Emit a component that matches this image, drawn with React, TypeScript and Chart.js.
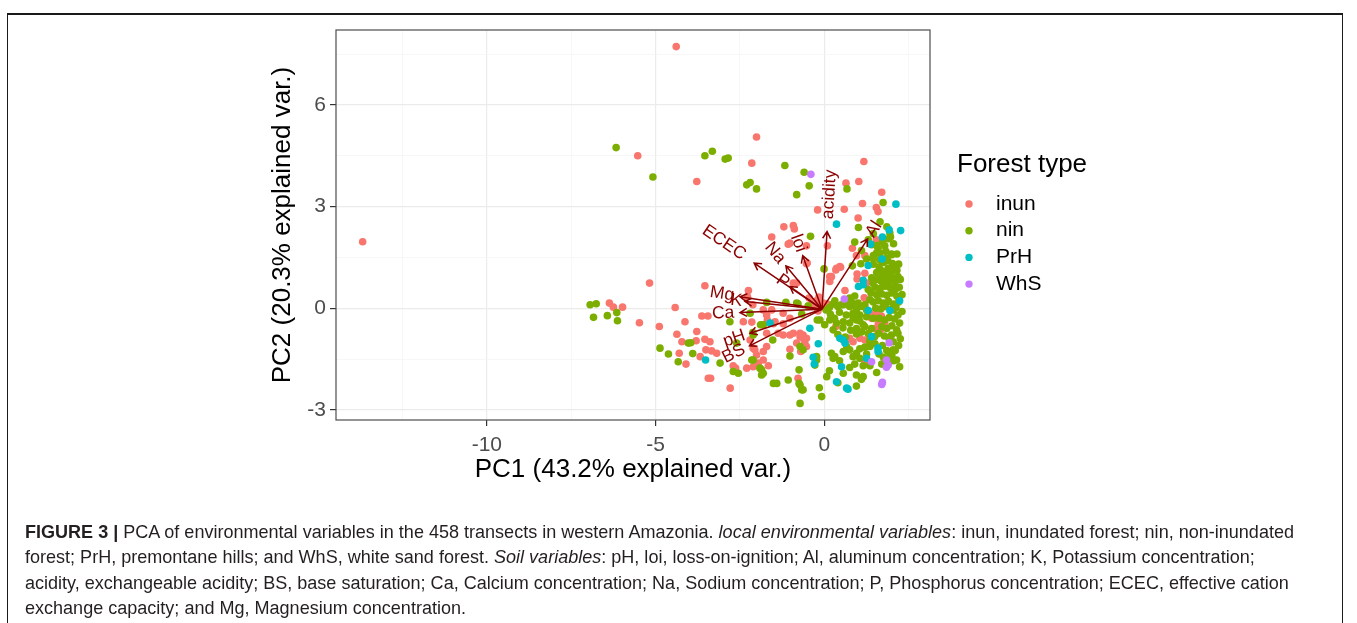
import React, { useEffect, useRef } from "react";
import { Chart, registerables } from "chart.js";

Chart.register(...registerables);

// ---------- data ----------
const forestTypes = ["inun", "nin", "PrH", "WhS"];
const forestColors = ["#F8766D", "#7CAE00", "#00BFC4", "#C77CFF"];

const inunPoints: number[][] = [
  [-13.68, 1.96], [-4.39, 7.72], [-5.53, 4.5], [-3.78, 3.74], [-2.01, 5.05], [-2.15, 4.28], [1.17, 4.33],
  [0.64, 3.69], [1.02, 3.74], [1.7, 3.42], [1.13, 3.09], [1.54, 2.97], [1.59, 2.85], [0.59, 2.92],
  [-0.2, 2.9], [1.0, 2.66], [-1.2, 2.4], [-0.92, 2.44], [-0.89, 2.34], [-1.56, 2.1], [1.54, 2.02],
  [-1.02, 1.92], [-0.53, 1.84], [0.09, 1.84], [0.83, 1.77], [1.2, 1.55], [0.95, 1.55], [0.46, 1.23],
  [0.34, 1.13], [0.21, 0.93], [-0.51, 1.33], [0.97, 1.01], [0.16, 0.79], [-0.92, 0.74], [-0.82, 0.74],
  [1.25, 0.74], [1.2, 1.03], [0.97, 0.86], [0.61, 0.52], [1.18, 0.31], [0.66, 0.13], [1.25, 0.25],
  [1.35, -0.15], [1.54, -0.17], [1.69, -0.23], [1.79, -0.44], [1.66, -0.64], [0.21, -0.27], [0.34, -0.54],
  [0.66, -0.94], [0.75, -0.89], [0.85, -0.99], [1.05, -0.89], [1.2, -0.94], [1.2, -1.62], [-0.78, -2.07],
  [-0.67, -1.18], [-0.7, -1.28],
  [-0.45, 0.3], [-0.23, 0.22], [-0.04, 0.15], [0.07, 0.13], [-0.37, 0.19], [-0.16, 0.33], [-0.31, 0.07],
  [-0.1, 0.04], [-0.19, -0.08],
  [-5.18, 0.74], [-3.54, 0.66], [-2.25, 0.52], [-2.28, 0.34], [-2.12, 0.1], [-4.42, 0.02], [-6.37, 0.15],
  [-6.25, 0.03], [-5.98, 0.03], [-5.48, -0.43], [-4.89, -0.54], [-4.13, -0.4], [-3.63, -0.23], [-3.45, -0.23],
  [-2.4, -0.4], [-2.15, -0.41],
  [-1.81, -0.05], [-1.56, -0.05], [-1.71, -0.2], [-1.69, -0.35], [-1.51, -0.46], [-1.22, -0.46], [-1.02, -0.3],
  [-1.46, -0.4], [-1.22, -0.15],
  [-0.92, -0.74], [-0.72, -0.74], [-0.63, -0.79], [-0.53, -0.89], [-0.58, -1.03],
  [-4.37, -0.77], [-4.22, -0.99], [-3.78, -0.69], [-3.8, -0.96], [-3.54, -0.92], [-3.39, -0.99],
  [-4.3, -1.33], [-4.1, -1.65], [-3.68, -1.43], [-3.51, -1.23], [-3.34, -1.26], [-3.19, -1.33],
  [-2.7, -1.7], [-2.63, -1.77], [-3.44, -2.07], [-3.37, -2.07], [-2.79, -2.36],
  [-2.2, -0.94], [-2.06, -1.23], [-2.01, -1.38], [-1.81, -1.28], [-1.71, -1.13],
  [-2.11, -1.73], [-1.96, -1.62], [-1.81, -1.53], [-1.66, -1.7], [-2.3, -1.77],
  [-1.02, -1.21], [-0.82, -1.03], [-0.63, -0.89], [-0.53, -1.13],
  [-1.37, -0.74], [-1.22, -0.79], [-1.02, -0.79], [-0.72, -0.84], [-1.71, -0.74],
  [-2.11, -1.18], [-1.07, 1.89], [-0.53, 1.31], [0.36, 1.18], [0.48, 1.21], [0.16, 0.93],
  [1.4, -0.3], [1.6, -0.45], [1.48, -0.6],
];

const ninPoints: number[][] = [
  [-6.17, 4.74], [-5.08, 3.87], [-3.54, 4.5], [-3.32, 4.63], [-2.94, 4.4], [-2.85, 4.43], [-1.17, 4.21],
  [-0.6, 4.01], [-2.3, 3.64], [-2.2, 3.71], [-2.01, 3.52], [-0.82, 3.35], [-0.45, 3.61], [0.67, 3.52],
  [1.74, 3.12], [1.01, 2.38], [-0.41, 2.12], [1.94, 2.22], [1.96, 2.1], [1.3, 2.02], [1.4, 1.87],
  [1.59, 1.77], [1.79, 1.84], [1.54, 1.62], [1.44, 1.48], [1.64, 1.43], [1.84, 1.48], [1.99, 1.6],
  [1.08, 1.31], [0.83, 1.25], [1.89, 1.18], [2.04, 1.18], [1.79, 1.03], [1.99, 0.93], [2.18, 0.93],
  [-0.01, 1.16],
  [-6.94, 0.1], [-6.76, 0.13], [-6.84, -0.27], [-6.43, -0.22], [-6.15, -0.13], [-6.13, -0.37],
  [-2.8, -0.4], [-1.89, -0.49], [-1.71, 0.17], [-1.14, 0.17], [-0.78, 0.13], [-0.67, -0.17], [-0.21, -0.35],
  [0.01, -0.49], [-2.2, -0.15], [-2.12, -0.72],
  [-4.03, -1.03], [-3.96, -1.02], [-4.87, -1.18], [-4.62, -1.35], [-4.33, -1.58], [-3.9, -1.34], [-3.09, -1.62],
  [-2.7, -1.87], [-2.55, -1.92], [-2.6, -1.03],
  [-2.11, -1.53], [-1.86, -1.82], [-1.86, -1.97], [-1.81, -1.92], [-1.51, -2.22], [-1.07, -2.12],
  [-0.75, -1.82], [-0.75, -2.22], [-0.67, -2.41], [-0.72, -2.81], [-0.23, -1.53], [0.07, -2.02], [-0.08, -2.61],
  [-1.53, -0.94], [-0.72, -1.13], [-0.63, -1.23], [-1.41, -2.22], [-0.72, -2.27], [-0.63, -2.41], [-1.02, -1.41],
  [-0.23, -1.43], [-0.28, -1.68], [0.21, -1.33], [0.26, -1.48], [0.31, -1.43], [0.56, -1.92], [0.95, -1.97],
  [1.15, -2.02],
  [-0.13, -0.35], [0.26, -0.64], [0.16, -0.35], [0.36, -0.44], [0.56, -0.4], [0.75, -0.44], [0.95, -0.35],
  [1.15, -0.49],
  [0.31, 0.22], [0.56, 0.1], [0.75, 0.05], [0.95, -0.05], [0.85, -0.15], [1.05, -0.2], [1.25, -0.25],
  [0.75, 0.3], [0.9, 0.36], [1.44, 0.74], [1.69, 0.79], [1.89, 0.79], [2.09, 0.74],
  [2.04, -0.05], [2.18, -0.2], [2.23, -0.44], [2.14, -0.64], [1.99, -0.79], [2.04, -0.99], [2.18, -0.74],
  [0.95, -0.76], [1.35, -0.94], [1.49, -0.84], [1.35, -1.13], [2.04, -1.23], [1.94, -1.38], [2.14, -1.53],
  [2.23, -1.73], [0.95, -1.33], [1.05, -1.48], [0.85, -1.43], [0.75, -1.23], [0.66, -1.13], [0.56, -1.28],
  [-1.91, -1.77], [-0.82, 0.15], [-0.48, 0.07], [-1.81, -0.49], [-2.11, -0.79], [-2.15, -1.53],
  [1.45, 1.3], [1.62, 1.22], [1.75, 1.35], [1.88, 1.4], [2.02, 1.32], [1.55, 1.05], [1.7, 1.1],
  [1.85, 1.05], [2.0, 1.08], [2.15, 1.12], [1.4, 0.9], [1.58, 0.85], [1.72, 0.92], [1.9, 0.88],
  [2.05, 0.82], [1.5, 0.62], [1.65, 0.58], [1.8, 0.65], [1.95, 0.6], [2.1, 0.55], [2.22, 0.62],
  [1.38, 0.45], [1.55, 0.4], [1.7, 0.42], [1.85, 0.38], [2.0, 0.45], [2.15, 0.35], [1.45, 0.18],
  [1.6, 0.22], [1.75, 0.15], [1.9, 0.2], [2.05, 0.12], [2.2, 0.18], [1.52, 0.0], [1.68, -0.02],
  [1.82, 0.05], [1.98, -0.04], [2.12, 0.02], [1.62, -0.3], [1.78, -0.35], [1.92, -0.28], [2.08, -0.32],
  [1.7, -0.55], [1.85, -0.6], [2.0, -0.52], [1.6, -0.75], [1.78, -0.82], [1.92, -0.9], [1.5, -1.05],
  [1.72, -1.1], [1.85, -1.25], [2.0, -1.4], [1.75, -1.45], [1.62, -1.35], [1.9, -1.6], [2.1, -1.25],
  [1.45, 1.55], [1.65, 1.62], [1.82, 1.68], [2.0, 1.58], [1.55, 1.85], [1.72, 1.95], [1.9, 2.05],
  [2.05, 1.9], [1.35, 0.25], [1.3, 0.55], [1.25, -0.05], [1.2, 0.1], [1.1, 0.05], [1.0, 0.15],
  [0.9, 0.08], [0.8, 0.18], [0.7, 0.12], [0.6, 0.2], [0.5, 0.1], [0.4, 0.05], [0.25, 0.12],
  [0.15, 0.02], [0.05, -0.05], [0.45, -0.12], [0.65, -0.2], [0.85, -0.28], [1.05, -0.38], [1.2, -0.55],
  [1.1, -0.7], [0.95, -0.6], [0.78, -0.65], [0.55, -0.58], [0.4, -0.78], [0.62, -0.85], [0.3, -0.3],
  [0.18, -0.18], [1.3, -0.75], [1.4, -0.6], [1.45, -0.3], [1.35, -1.0], [1.2, -1.15], [1.05, -1.2],
  [1.25, -1.35], [1.15, -1.7], [0.9, -1.65], [0.75, -1.75], [0.45, -1.55], [0.95, -2.3], [0.4, -2.2],
  [0.15, -1.85], [-0.15, -2.35], [1.1, -2.1], [1.35, -1.7], [1.55, -1.9], [1.7, -1.65], [2.05, -1.55],
  [2.2, -1.1], [2.25, -0.9], [2.3, -0.1], [2.3, 0.4], [2.25, 0.85], [2.2, 1.3], [2.15, 1.6],
  [1.65, 2.55], [1.85, 2.4], [1.45, 2.2], [0.9, 1.95], [1.1, 1.7], [1.25, 1.45],
];

const prhPoints: number[][] = [
  [2.12, 3.07], [0.36, 2.48], [1.92, 2.31], [2.26, 2.29], [1.72, 2.1], [1.37, 1.89], [1.71, 1.45],
  [1.3, 1.26], [1.15, 0.82], [1.01, 0.64], [1.15, 0.69], [1.3, -0.07], [0.46, -0.89], [0.56, -0.94],
  [0.61, -1.03], [1.59, -1.18], [1.59, -1.28], [1.25, -1.48], [0.51, -1.73], [0.36, -2.17], [0.66, -2.36],
  [0.7, -2.39], [-0.33, -1.45], [-0.3, -1.65], [-0.43, -0.59], [-0.18, -1.05], [-1.61, -0.44], [-3.52, -1.53],
  [2.23, 0.22], [1.94, -0.07], [1.4, -0.84],
];

const whsPoints: number[][] = [
  [-0.4, 3.95], [0.59, 0.27], [1.92, -1.02], [1.84, -1.53], [1.89, -1.68], [1.84, -1.74], [1.4, -1.58],
  [1.72, -2.19], [1.7, -2.25],
];

const seriesPoints = [inunPoints, ninPoints, prhPoints, whsPoints];
const seriesOrder = [4, 3, 2, 1];

// soil-variable loadings (arrows)
const varNames = ["acidity", "Al", "loi", "Na", "ECEC", "P", "Mg", "K", "Ca", "pH", "BS"];
const loadX = [0.08, 1.28, -0.64, -1.14, -2.08, -1.02, -2.5, -2.35, -2.5, -2.2, -2.22];
const loadY = [2.26, 2.04, 1.55, 1.25, 1.33, 0.64, 0.34, 0.2, -0.13, -0.74, -1.11];
const arrowOrigin = [-0.07, -0.03];

// axes
const xRange = [-14.47, 3.13];
const yRange = [-3.3, 8.21];
const xMajor = [-10, -5, 0];
const xMinor = [-12.5, -7.5, -2.5, 2.5];
const yMajor = [-3, 0, 3, 6];
const yMinor = [-1.5, 1.5, 4.5, 7.5];

const xTitle = "PC1 (43.2% explained var.)";
const yTitle = "PC2 (20.3% explained var.)";
const legendTitle = "Forest type";

// ---------- layout / style ----------
const W = 1357;
const H = 623;
const PLOT = { left: 336, right: 930, top: 30, bottom: 420 };
const FONT = '"Liberation Sans", Arial, Helvetica, sans-serif';
const ARROW_COLOR = "#8B0000";

const overlayPlugin = {
  id: "overlay",
  afterDatasetsDraw(chart: any) {
    const { ctx, chartArea: a, scales } = chart;
    const xs = scales.x;
    const ys = scales.y;
    ctx.save();
    const ox = xs.getPixelForValue(arrowOrigin[0]);
    const oy = ys.getPixelForValue(arrowOrigin[1]);
    ctx.strokeStyle = ARROW_COLOR;
    ctx.lineWidth = 1.5;
    ctx.lineJoin = "miter";
    varNames.forEach((_, i) => {
      const tx = xs.getPixelForValue(loadX[i]);
      const ty = ys.getPixelForValue(loadY[i]);
      const ang = Math.atan2(ty - oy, tx - ox);
      const L = 8;
      const w = Math.PI / 6;
      ctx.beginPath();
      ctx.moveTo(ox, oy);
      ctx.lineTo(tx, ty);
      ctx.moveTo(tx - L * Math.cos(ang - w), ty - L * Math.sin(ang - w));
      ctx.lineTo(tx, ty);
      ctx.lineTo(tx - L * Math.cos(ang + w), ty - L * Math.sin(ang + w));
      ctx.stroke();
    });
    ctx.fillStyle = ARROW_COLOR;
    ctx.font = `17.5px ${FONT}`;
    ctx.textBaseline = "middle";
    ctx.textAlign = "left";
    varNames.forEach((name, i) => {
      const tx = xs.getPixelForValue(loadX[i]);
      const ty = ys.getPixelForValue(loadY[i]);
      const dx = tx - ox;
      const dy = ty - oy;
      const rot = Math.atan(dy / dx);
      const hj = (1 - 1.5 * Math.sign(loadX[i])) / 2;
      const tw = ctx.measureText(name).width;
      ctx.save();
      ctx.translate(tx, ty);
      ctx.rotate(rot);
      ctx.fillText(name, -hj * tw, 0);
      ctx.restore();
    });
    // panel border
    ctx.strokeStyle = "#4D4D4D";
    ctx.lineWidth = 1.2;
    ctx.strokeRect(a.left, a.top, a.right - a.left, a.bottom - a.top);
    ctx.restore();
  },
  afterDraw(chart: any) {
    const { ctx, chartArea: a } = chart;
    ctx.save();
    ctx.fillStyle = "#000";
    ctx.font = `26px ${FONT}`;
    ctx.textBaseline = "middle";
    ctx.textAlign = "center";
    ctx.fillText(xTitle, (a.left + a.right) / 2, 470);
    ctx.save();
    ctx.translate(283, (a.top + a.bottom) / 2);
    ctx.rotate(-Math.PI / 2);
    ctx.fillText(yTitle, 0, 0);
    ctx.restore();
    // legend
    ctx.textAlign = "left";
    ctx.fillText(legendTitle, 957, 165);
    ctx.font = `21px ${FONT}`;
    forestTypes.forEach((t, i) => {
      const cy = 204 + i * 26.7;
      ctx.beginPath();
      ctx.fillStyle = forestColors[i];
      ctx.arc(969, cy, 3.7, 0, Math.PI * 2);
      ctx.fill();
      ctx.fillStyle = "#000";
      ctx.fillText(t, 996, cy);
    });
    ctx.restore();
  },
};

function isIn(list: number[], v: any) {
  return list.some((m) => Math.abs(m - v) < 1e-9);
}

export default function App() {
  const canvasRef = useRef<HTMLCanvasElement | null>(null);
  const captionRef = useRef<HTMLDivElement | null>(null);

  useEffect(() => {
    if (!canvasRef.current) return;
    const chart = new Chart(canvasRef.current, {
      type: "scatter",
      data: {
        datasets: forestTypes.map((name, i) => ({
          label: name,
          data: seriesPoints[i].map(([x, y]) => ({ x, y })),
          backgroundColor: forestColors[i],
          borderWidth: 0,
          pointRadius: 3.8,
          pointHoverRadius: 3.8,
          order: seriesOrder[i],
        })),
      },
      options: {
        animation: false,
        responsive: false,
        maintainAspectRatio: false,
        events: [],
        layout: { padding: { left: 0, top: PLOT.top, right: W - PLOT.right, bottom: 0 } },
        plugins: { legend: { display: false }, tooltip: { enabled: false }, title: { display: false } },
        scales: {
          x: {
            type: "linear",
            min: xRange[0],
            max: xRange[1],
            afterBuildTicks: (s: any) => {
              s.ticks = [...xMinor, ...xMajor].sort((p, q) => p - q).map((v) => ({ value: v }));
            },
            afterFit: (s: any) => {
              s.height = H - PLOT.bottom;
            },
            border: { display: false },
            grid: {
              color: (c: any) => (isIn(xMajor, c.tick?.value) ? "#EBEBEB" : "#F3F3F3"),
              lineWidth: (c: any) => (isIn(xMajor, c.tick?.value) ? 1.2 : 0.7),
              tickColor: (c: any) => (isIn(xMajor, c.tick?.value) ? "#333333" : "rgba(0,0,0,0)"),
              tickWidth: 1.2,
              tickLength: 6,
            },
            ticks: {
              autoSkip: false,
              maxRotation: 0,
              padding: 7,
              color: "#4D4D4D",
              font: { family: FONT, size: 21 },
              callback: (v: any) => (isIn(xMajor, v) ? String(v) : ""),
            },
          },
          y: {
            type: "linear",
            min: yRange[0],
            max: yRange[1],
            afterBuildTicks: (s: any) => {
              s.ticks = [...yMinor, ...yMajor].sort((p, q) => p - q).map((v) => ({ value: v }));
            },
            afterFit: (s: any) => {
              s.width = PLOT.left;
            },
            border: { display: false },
            grid: {
              color: (c: any) => (isIn(yMajor, c.tick?.value) ? "#EBEBEB" : "#F3F3F3"),
              lineWidth: (c: any) => (isIn(yMajor, c.tick?.value) ? 1.2 : 0.7),
              tickColor: (c: any) => (isIn(yMajor, c.tick?.value) ? "#333333" : "rgba(0,0,0,0)"),
              tickWidth: 1.2,
              tickLength: 6,
            },
            ticks: {
              autoSkip: false,
              padding: 4,
              color: "#4D4D4D",
              font: { family: FONT, size: 21 },
              callback: (v: any) => (isIn(yMajor, v) ? String(v) : ""),
            },
          },
        },
      } as any,
      plugins: [overlayPlugin as any],
    });

    // fit caption font size so the first line spans the measured width
    const cap = captionRef.current;
    if (cap) {
      const first = cap.querySelector('[data-line="1"]') as HTMLElement | null;
      if (first) {
        const w = first.getBoundingClientRect().width;
        if (w > 0) cap.style.fontSize = `${(16 * 1270) / w}px`;
      }
    }
    return () => chart.destroy();
  }, []);

  const lineStyle = (i: number): React.CSSProperties => ({
    position: "absolute",
    left: 25,
    top: 520 + i * 25.4,
    height: 25.4,
    lineHeight: "25.4px",
    whiteSpace: "nowrap",
    width: "max-content",
  });

  return (
    <div style={{ position: "absolute", left: 0, top: 0, width: W, height: H, overflow: "hidden", background: "#fff" }}>
      <div
        style={{
          position: "absolute",
          left: 7,
          top: 13,
          width: 1343 - 7,
          height: 700,
          borderTop: "2px solid #1a1a1a",
          borderLeft: "1.5px solid #1a1a1a",
          borderRight: "1.5px solid #1a1a1a",
          boxSizing: "border-box",
        }}
      />
      <canvas ref={canvasRef} width={W} height={H} style={{ position: "absolute", left: 0, top: 0, width: W, height: H }} />
      <div
        ref={captionRef}
        style={{ position: "absolute", left: 0, top: 0, fontFamily: FONT, fontSize: 16, color: "#231F20" }}
      >
        <div data-line="1" style={lineStyle(0)}>
          <b>FIGURE 3 |</b> PCA of environmental variables in the 458 transects in western Amazonia.{" "}
          <i>local environmental variables</i>: inun, inundated forest; nin, non-inundated
        </div>
        <div style={lineStyle(1)}>
          forest; PrH, premontane hills; and WhS, white sand forest. <i>Soil variables</i>: pH, loi, loss-on-ignition; Al,
          aluminum concentration; K, Potassium concentration;
        </div>
        <div style={lineStyle(2)}>
          acidity, exchangeable acidity; BS, base saturation; Ca, Calcium concentration; Na, Sodium concentration; P,
          Phosphorus concentration; ECEC, effective cation
        </div>
        <div style={lineStyle(3)}>exchange capacity; and Mg, Magnesium concentration.</div>
      </div>
    </div>
  );
}
